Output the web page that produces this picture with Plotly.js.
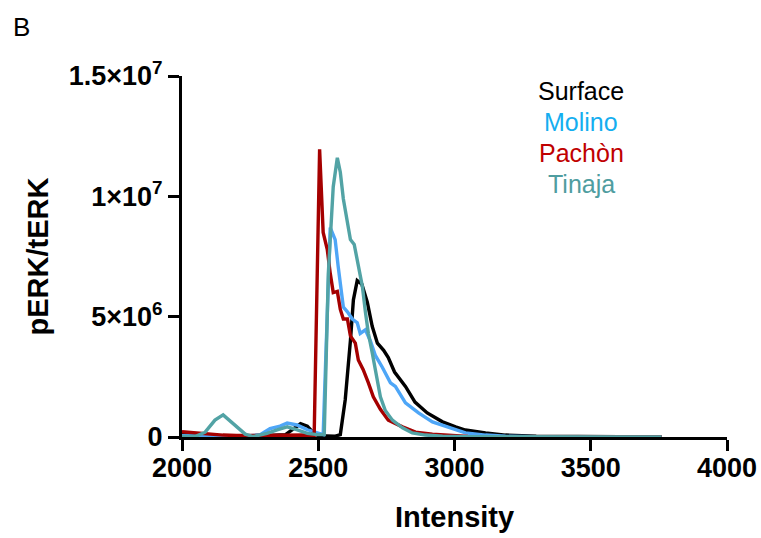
<!DOCTYPE html>
<html>
<head>
<meta charset="utf-8">
<script src="https://cdn.plot.ly/plotly-3.0.1.min.js"></script>
<style>html,body{margin:0;padding:0;background:#fff;}#chart{width:761px;height:538px;}</style>
</head>
<body>
<div id="chart"></div>
<script>
// Surface (black)
const surfaceX = [2000,2100,2200,2300,2380,2410,2435,2460,2480,2500,2560,2581,2599,2618,2629,2643,2660,2680,2698,2717,2740,2757,2780,2820,2855,2900,2956,3004,3040,3114,3187,3300,3500,3760];
const surfaceY = [0.1,0.05,0.02,0.05,0.1,0.35,0.55,0.45,0.2,0.05,0.03,0.1,1.55,4.0,5.7,6.5,6.35,5.6,4.6,3.9,3.6,3.3,2.7,2.1,1.45,1.0,0.63,0.42,0.29,0.17,0.08,0.03,0.01,0];
// Molino (blue)
const molinoX = [2000,2100,2200,2250,2287,2323,2360,2386,2422,2460,2500,2518,2544,2562,2573,2581,2592,2607,2625,2643,2654,2673,2691,2709,2735,2765,2783,2820,2868,2919,2978,3040,3114,3187,3300,3760];
const molinoY = [0.05,0.03,0.02,0.05,0.1,0.35,0.45,0.58,0.5,0.3,0.15,0.1,8.7,8.2,7.1,6.25,5.4,5.2,4.9,4.75,4.3,4.45,4.0,3.4,2.9,2.25,2.1,1.42,1.0,0.63,0.4,0.17,0.08,0.03,0.01,0];
// Pachòn (red)
const pachonX = [2000,2050,2100,2150,2200,2300,2400,2450,2485,2505,2518,2533,2544,2555,2570,2581,2592,2607,2618,2636,2647,2665,2684,2702,2728,2757,2809,2857,2919,2978,3050,3150,3760];
const pachonY = [0.22,0.17,0.12,0.08,0.06,0.08,0.1,0.08,0.05,11.95,8.5,7.8,6.8,6.0,6.05,5.3,4.9,4.9,4.2,3.9,3.2,2.8,2.25,1.67,1.15,0.7,0.42,0.2,0.12,0.06,0.02,0.01,0];
// Tinaja (teal)
const tinajaX = [2000,2050,2085,2121,2151,2184,2232,2261,2312,2349,2386,2423,2460,2496,2522,2537,2551,2555,2570,2581,2592,2607,2618,2632,2647,2662,2673,2684,2698,2713,2728,2746,2772,2809,2845,2893,2956,3050,3760];
const tinajaY = [0.02,0.03,0.2,0.7,0.92,0.6,0.12,0.02,0.15,0.3,0.42,0.3,0.15,0.1,0.1,6.8,10.0,10.4,11.6,11.0,9.9,9.0,8.2,8.0,7.1,6.25,5.2,4.3,3.5,2.67,1.67,1.1,0.7,0.38,0.17,0.08,0.03,0.01,0];

const seriesNames = ["Surface","Molino","Pachòn","Tinaja"];
const lineColors = ["#000000","#4ea6f7","#a50000","#52a3a5"];
const labelColors = ["#000000","#14aef0","#c00000","#4f9da0"];
const yTickVals = [0,5e6,1e7,1.5e7];
const yTickText = ["0","5×10<sup>6</sup>","1×10<sup>7</sup>","1.5×10<sup>7</sup>"];
const xTickVals = [2000,2500,3000,3500,4000];

const scale = v => v.map(d => d * 1e6);
const xs = [surfaceX, molinoX, pachonX, tinajaX];
const ys = [surfaceY, molinoY, pachonY, tinajaY];

const traces = seriesNames.map((n,i) => ({
  type: "scatter", mode: "lines", name: n,
  x: xs[i], y: scale(ys[i]),
  line: {color: lineColors[i], width: 3.4, shape: "linear"},
  showlegend: false, hoverinfo: "skip"
}));

const font = "Liberation Sans, Arial, sans-serif";
const annotations = seriesNames.map((n,i) => ({
  text: n, xref: "paper", yref: "paper",
  x: (581-182)/(727-182), y: (437-(91+i*31))/(437-76),
  xanchor: "center", yanchor: "middle", showarrow: false,
  font: {family: font, size: 25, color: labelColors[i]}
}));
annotations.push({
  text: "B", xref: "paper", yref: "paper",
  x: (11-182)/(727-182), y: (437-27)/(437-76),
  xanchor: "left", yanchor: "middle", showarrow: false,
  font: {family: font, size: 26, color: "#000"}
});

const layout = {
  width: 761, height: 538,
  margin: {l: 182, r: 34, t: 76, b: 101, pad: 0},
  paper_bgcolor: "#fff", plot_bgcolor: "#fff",
  font: {family: font, color: "#000"},
  xaxis: {
    range: [2000, 4000], tickvals: xTickVals, ticks: "outside",
    ticklen: 11, tickwidth: 3, tickcolor: "#000", ticklabelstandoff: -6,
    showline: true, linewidth: 3, linecolor: "#000",
    showgrid: false, zeroline: false, layer: "below traces",
    tickfont: {family: font, size: 27, weight: 700, color: "#000"},
    title: {text: "Intensity", standoff: 25, font: {family: font, size: 29, weight: 700, color: "#000"}}
  },
  yaxis: {
    range: [0, 1.5e7], tickvals: yTickVals, ticktext: yTickText, ticks: "outside",
    ticklen: 11, tickwidth: 3, tickcolor: "#000",
    showline: true, linewidth: 3, linecolor: "#000",
    showgrid: false, zeroline: false, layer: "below traces",
    tickfont: {family: font, size: 27, weight: 700, color: "#000"},
    title: {text: "pERK/tERK", standoff: 12, font: {family: font, size: 29, weight: 700, color: "#000"}}
  },
  annotations: annotations
};

Plotly.newPlot("chart", traces, layout, {displayModeBar: false, staticPlot: true});
</script>
</body>
</html>
